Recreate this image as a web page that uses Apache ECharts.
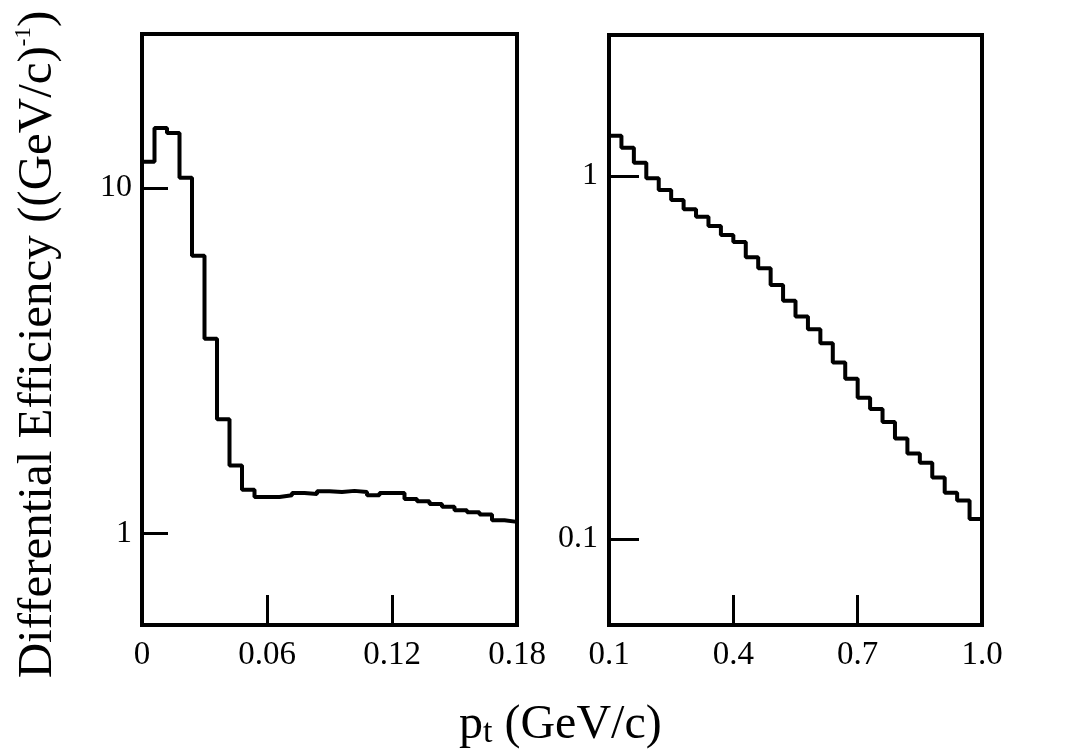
<!DOCTYPE html>
<html>
<head>
<meta charset="utf-8">
<script src="https://cdn.jsdelivr.net/npm/echarts@6/dist/echarts.min.js"></script>
<style>
  html, body { margin: 0; padding: 0; background: #fff; }
  #chart { width: 1065px; height: 754px; }
</style>
</head>
<body>
<div id="chart"></div>
<script>
// low pt panel: 30 bins of 0.006 GeV/c from 0
var lowBinStart = 0;
var lowBinWidth = 0.006;
var lowEff = [11.9, 14.9, 14.4, 10.7, 6.36, 3.66, 2.14, 1.575, 1.34, 1.276,
              1.276, 1.29, 1.311, 1.302, 1.325, 1.32, 1.329, 1.32, 1.29, 1.311,
              1.311, 1.26, 1.24, 1.218, 1.195, 1.168, 1.152, 1.135, 1.093, 1.081];

// high pt panel: 30 bins of 0.03 GeV/c from 0.1
var highBinStart = 0.1;
var highBinWidth = 0.03;
var highEff = [1.291, 1.197, 1.088, 0.985, 0.915, 0.859, 0.810, 0.772, 0.728, 0.688,
               0.658, 0.597, 0.557, 0.501, 0.453, 0.410, 0.378, 0.346, 0.306, 0.276,
               0.245, 0.228, 0.210, 0.189, 0.172, 0.162, 0.1475, 0.134, 0.1275, 0.1135];

var lowXLabels = [0, 0.06, 0.12, 0.18];
var lowXTicks = [0.06, 0.12];
var highXLabels = [0.1, 0.4, 0.7, 1.0];
var highXTicks = [0.4, 0.7];
var lowYTicks = [1, 10];
var highYTicks = [0.1, 1];
var lowYRange = [0.544, 27.86];
var highYRange = [0.0579, 2.446];

var FONT = 'Liberation Serif';

// histogram outline as step points (left edge of each bin + closing edge)
function stepPoints(start, width, vals, floor) {
    var pts = [];
    if (floor != null) pts.push([start, floor]);
    for (var i = 0; i < vals.length; i++) {
        pts.push([+(start + i * width).toFixed(4), vals[i]]);
    }
    pts.push([+(start + vals.length * width).toFixed(4), vals[vals.length - 1]]);
    return pts;
}

function xAxisOf(idx, min, max, ticks, labels, fmt) {
    return {
        type: 'value', gridIndex: idx, min: min, max: max,
        axisLine: { show: false },
        splitLine: { show: false },
        axisTick: { show: true, inside: true, length: 30, customValues: ticks,
                    lineStyle: { color: '#000', width: 3 } },
        axisLabel: { customValues: labels, formatter: fmt, margin: 14,
                     fontFamily: FONT, fontSize: 33, color: '#000' }
    };
}

function yAxisOf(idx, range, ticks, tickLen, margin) {
    return {
        type: 'log', logBase: 10, gridIndex: idx, min: range[0], max: range[1],
        axisLine: { show: false },
        splitLine: { show: false },
        minorTick: { show: false },
        axisTick: { show: true, inside: true, length: tickLen, customValues: ticks,
                    lineStyle: { color: '#000', width: 3 } },
        axisLabel: { customValues: ticks, formatter: function (v) { return String(v); },
                     margin: margin, fontFamily: FONT, fontSize: 32, color: '#000' }
    };
}

var leftY = yAxisOf(0, lowYRange, lowYTicks, 26, 10);
leftY.name = 'Differential Efficiency ((GeV/c){s|-1})';
leftY.nameLocation = 'middle';
leftY.nameRotate = 90;
leftY.nameGap = 78;
leftY.nameTextStyle = {
    fontFamily: FONT, fontSize: 49, lineHeight: 52, color: '#000',
    padding: [0, 30, 0, 0],
    rich: { s: { fontFamily: FONT, fontSize: 23, lineHeight: 23, verticalAlign: 'top', color: '#000' } }
};

var chart = echarts.init(document.getElementById('chart'));

var option = {
    backgroundColor: '#fff',
    animation: false,
    title: {
        text: 'p{t|t} (GeV/c)',
        left: 459, top: 700, padding: 0,
        textStyle: {
            fontFamily: FONT, fontSize: 48, lineHeight: 50, fontWeight: 'normal', color: '#000',
            rich: { t: { fontFamily: FONT, fontSize: 34, lineHeight: 32, verticalAlign: 'bottom', color: '#000' } }
        }
    },
    grid: [
        { left: 142, top: 34, width: 375, height: 591, show: true, outerBoundsMode: 'none',
          borderColor: '#000', borderWidth: 4, backgroundColor: 'transparent' },
        { left: 609, top: 35, width: 373, height: 590, show: true, outerBoundsMode: 'none',
          borderColor: '#000', borderWidth: 4, backgroundColor: 'transparent' }
    ],
    xAxis: [
        xAxisOf(0, 0, 0.18, lowXTicks, lowXLabels, function (v) { return String(v); }),
        xAxisOf(1, 0.1, 1.0, highXTicks, highXLabels, function (v) { return v.toFixed(1); })
    ],
    yAxis: [
        leftY,
        yAxisOf(1, highYRange, highYTicks, 30, 11)
    ],
    series: [
        { type: 'line', xAxisIndex: 0, yAxisIndex: 0, step: 'end', showSymbol: false,
          data: stepPoints(lowBinStart, lowBinWidth, lowEff, lowYRange[0]),
          lineStyle: { color: '#000', width: 4 } },
        { type: 'line', xAxisIndex: 1, yAxisIndex: 1, step: 'end', showSymbol: false,
          data: stepPoints(highBinStart, highBinWidth, highEff, 1),
          lineStyle: { color: '#000', width: 4 } }
    ]
};

chart.setOption(option);
</script>
</body>
</html>
